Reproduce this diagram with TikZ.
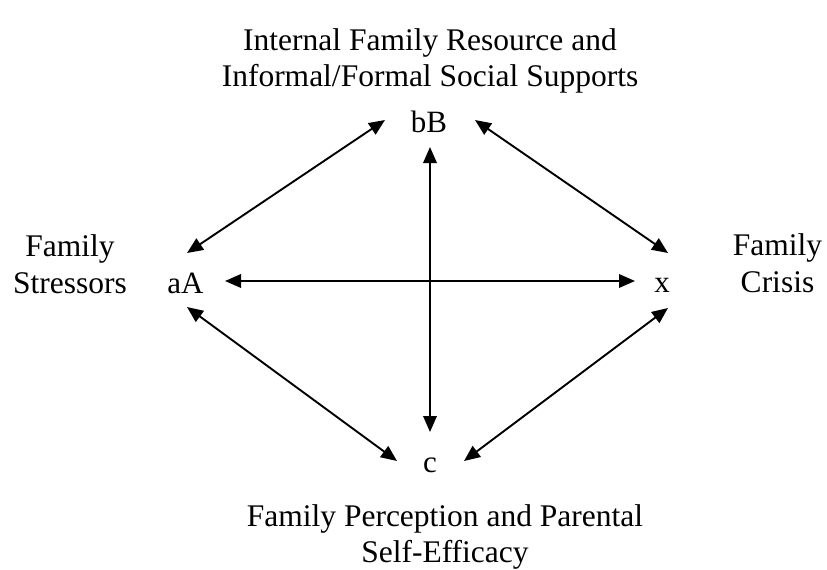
\documentclass[tikz,border=0pt]{standalone}
\usepackage{fontspec}
\setmainfont{Liberation Serif}
\usetikzlibrary{arrows.meta,calc}
\begin{document}
\begin{tikzpicture}[x=1pt,y=-1pt,
  lbl/.style={font=\fontsize{31.5}{36.5}\selectfont, inner sep=0pt, align=center},
  var/.style={font=\fontsize{31}{36.5}\selectfont, inner sep=0pt, anchor=base},
  link/.style={line width=1.9pt, {Triangle[length=16pt,width=13.5pt]}-{Triangle[length=16pt,width=13.5pt]}}]
\useasboundingbox (0,0) rectangle (827,570);
% labels
\node[lbl] (top) at (430,61) {Internal Family Resource and\\Informal/Formal Social Supports};
\node[lbl] (left) at (70,264) {Family\\Stressors};
\node[lbl] (right) at (777.5,263) {Family\\Crisis};
\node[lbl] (bottom) at (445,537) {Family Perception and Parental\\Self-Efficacy};
% variables
\node[var] (bB) at (429,132) {bB};
\node[var] (aA) at (185.5,293) {aA};
\node[var] (x) at (662,292) {x};
\node[var] (c) at (430,472) {c};
% connectors
\draw[link] ($(aA.base)+(1.5,-40)$) -- ($(bB.base)+(-44,-12)$);
\draw[link] ($(bB.base)+(46,-12)$) -- ($(x.base)+(6,-39)$);
\draw[link] ($(aA.base)+(39.5,-12)$) -- ($(x.base)+(-27,-11)$);
\draw[link] ($(bB.base)+(1,15)$) -- ($(c.base)+(0,-40)$);
\draw[link] ($(aA.base)+(1.5,14)$) -- ($(c.base)+(-33,-11)$);
\draw[link] ($(c.base)+(34,-11)$) -- ($(x.base)+(6,16)$);
\end{tikzpicture}
\end{document}
